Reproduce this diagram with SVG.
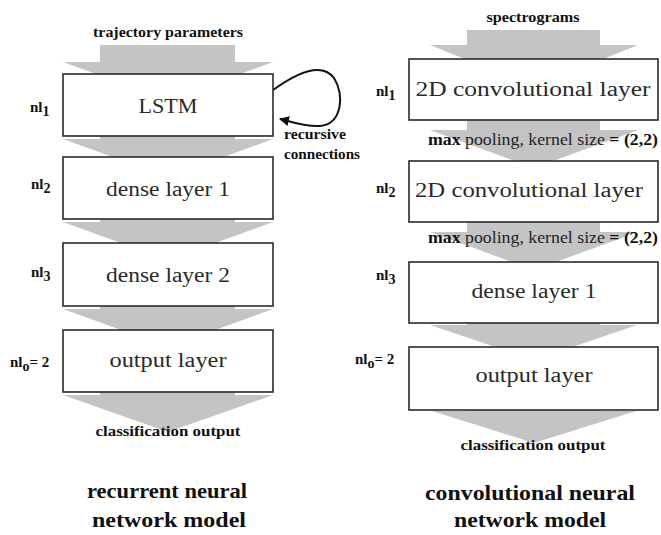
<svg xmlns="http://www.w3.org/2000/svg" width="661" height="535" viewBox="0 0 661 535">
<defs>
<style>
.box{fill:#fff;stroke:#2a2a2a;stroke-width:1.6}
.arr{fill:#c4c4c4;stroke:none}
.lt{font-family:"Liberation Serif",serif;font-size:20px;fill:#2a2a2a;text-anchor:middle}
.bl{font-family:"Liberation Serif",serif;font-weight:bold;font-size:15px;fill:#111}
.blc{font-family:"Liberation Serif",serif;font-weight:bold;font-size:15px;fill:#111;text-anchor:middle}
.ttl{font-family:"Liberation Serif",serif;font-weight:bold;font-size:22px;fill:#111;text-anchor:middle}
.mp{font-family:"Liberation Serif",serif;font-size:17px;fill:#222}
.loop{fill:none;stroke:#111;stroke-width:2}
</style>
<marker id="ah" viewBox="0 0 10 10" refX="9" refY="5" markerWidth="5" markerHeight="5" orient="auto" markerUnits="strokeWidth">
<path d="M0,0 L10,5 L0,10 z" fill="#111"/>
</marker>
</defs>
<rect width="661" height="535" fill="#fff"/>

<g id="connectors">
<polygon class="arr" points="100,45 235,45 235,62 273,62 168,100 63,62 100,62"/>
<polygon class="arr" points="100,136 235,136 235,139 273,139 168,177 63,139 100,139"/>
<polygon class="arr" points="100,219 235,219 235,222 273,222 168,260 63,222 100,222"/>
<polygon class="arr" points="100,306 235,306 235,309 273,309 168,347 63,309 100,309"/>
<polygon class="arr" points="100,392 235,392 235,395 273,395 168,432 63,395 100,395"/>
<polygon class="arr" points="467,30 600,30 600,45 638,45 534,87 430,45 467,45"/>
<polygon class="arr" points="467,120 600,120 600,130 638,130 534,168 430,130 467,130"/>
<polygon class="arr" points="467,222 600,222 600,232 638,232 534,270 430,232 467,232"/>
<polygon class="arr" points="467,322 600,322 600,325 637,325 534,360 430,325 467,325"/>
<polygon class="arr" points="467,410 600,410 600,411 636,411 534,443 432,411 467,411"/>
<path class="loop" d="M273,90 C298,72 322,62 334,78 C345,95 342,124 320,126 C305,127 292,122 280,119" marker-end="url(#ah)"/>
</g>

<g id="rnn-input"><text class="blc" x="168" y="37" textLength="150" lengthAdjust="spacingAndGlyphs">trajectory parameters</text></g>
<g id="rnn-lstm">
<rect class="box" x="63" y="74" width="210" height="62"/>
<text class="lt" x="168" y="113" textLength="59" lengthAdjust="spacingAndGlyphs">LSTM</text>
<text class="bl" x="30" y="112">nl<tspan font-size="14" dy="4">1</tspan></text>
</g>
<g id="rnn-recursive">
<text class="bl" x="284" y="139" font-size="14" textLength="62" lengthAdjust="spacingAndGlyphs">recursive</text>
<text class="bl" x="284" y="159" font-size="14" textLength="76" lengthAdjust="spacingAndGlyphs">connections</text>
</g>
<g id="rnn-dense1">
<rect class="box" x="63" y="157" width="210" height="62"/>
<text class="lt" x="168" y="196" textLength="124" lengthAdjust="spacingAndGlyphs">dense layer 1</text>
<text class="bl" x="31" y="189">nl<tspan font-size="14" dy="4">2</tspan></text>
</g>
<g id="rnn-dense2">
<rect class="box" x="63" y="243" width="210" height="63"/>
<text class="lt" x="168" y="282" textLength="124" lengthAdjust="spacingAndGlyphs">dense layer 2</text>
<text class="bl" x="31" y="277">nl<tspan font-size="14" dy="4">3</tspan></text>
</g>
<g id="rnn-output">
<rect class="box" x="63" y="330" width="210" height="62"/>
<text class="lt" x="168" y="367" textLength="117" lengthAdjust="spacingAndGlyphs">output layer</text>
<text class="bl" x="10" y="367">nl<tspan font-size="14" dy="4">o</tspan><tspan dy="-4">= 2</tspan></text>
</g>
<g id="rnn-class"><text class="blc" x="168" y="436" textLength="145" lengthAdjust="spacingAndGlyphs">classification output</text></g>
<g id="rnn-title">
<text class="ttl" x="167" y="498" textLength="160" lengthAdjust="spacingAndGlyphs">recurrent neural</text>
<text class="ttl" x="169" y="527" textLength="154" lengthAdjust="spacingAndGlyphs">network model</text>
</g>

<g id="cnn-input"><text class="blc" x="533" y="22" textLength="93" lengthAdjust="spacingAndGlyphs">spectrograms</text></g>
<g id="cnn-conv1">
<rect class="box" x="409" y="59" width="249" height="61"/>
<text class="lt" x="533" y="96" textLength="235" lengthAdjust="spacingAndGlyphs">2D convolutional layer</text>
<text class="bl" x="376" y="96">nl<tspan font-size="14" dy="4">1</tspan></text>
</g>
<g id="cnn-pool1"><text class="mp" x="428" y="145" textLength="230" lengthAdjust="spacingAndGlyphs"><tspan font-weight="bold" fill="#111">max</tspan> pooling, kernel size <tspan font-weight="bold" fill="#111">= (2,2)</tspan></text></g>
<g id="cnn-conv2">
<rect class="box" x="409" y="161" width="249" height="61"/>
<text class="lt" x="529" y="197" textLength="228" lengthAdjust="spacingAndGlyphs">2D convolutional layer</text>
<text class="bl" x="376" y="193">nl<tspan font-size="14" dy="4">2</tspan></text>
</g>
<g id="cnn-pool2"><text class="mp" x="428" y="243" textLength="230" lengthAdjust="spacingAndGlyphs"><tspan font-weight="bold" fill="#111">max</tspan> pooling, kernel size <tspan font-weight="bold" fill="#111">= (2,2)</tspan></text></g>
<g id="cnn-dense1">
<rect class="box" x="409" y="262" width="249" height="61"/>
<text class="lt" x="534" y="298" textLength="125" lengthAdjust="spacingAndGlyphs">dense layer 1</text>
<text class="bl" x="376" y="280">nl<tspan font-size="14" dy="4">3</tspan></text>
</g>
<g id="cnn-output">
<rect class="box" x="409" y="347" width="249" height="63"/>
<text class="lt" x="534" y="382" textLength="117" lengthAdjust="spacingAndGlyphs">output layer</text>
<text class="bl" x="355" y="364">nl<tspan font-size="14" dy="4">o</tspan><tspan dy="-4">= 2</tspan></text>
</g>
<g id="cnn-class"><text class="blc" x="533" y="450" textLength="145" lengthAdjust="spacingAndGlyphs">classification output</text></g>
<g id="cnn-title">
<text class="ttl" x="530" y="500" textLength="210" lengthAdjust="spacingAndGlyphs">convolutional neural</text>
<text class="ttl" x="530" y="527" textLength="152" lengthAdjust="spacingAndGlyphs">network model</text>
</g>
</svg>
